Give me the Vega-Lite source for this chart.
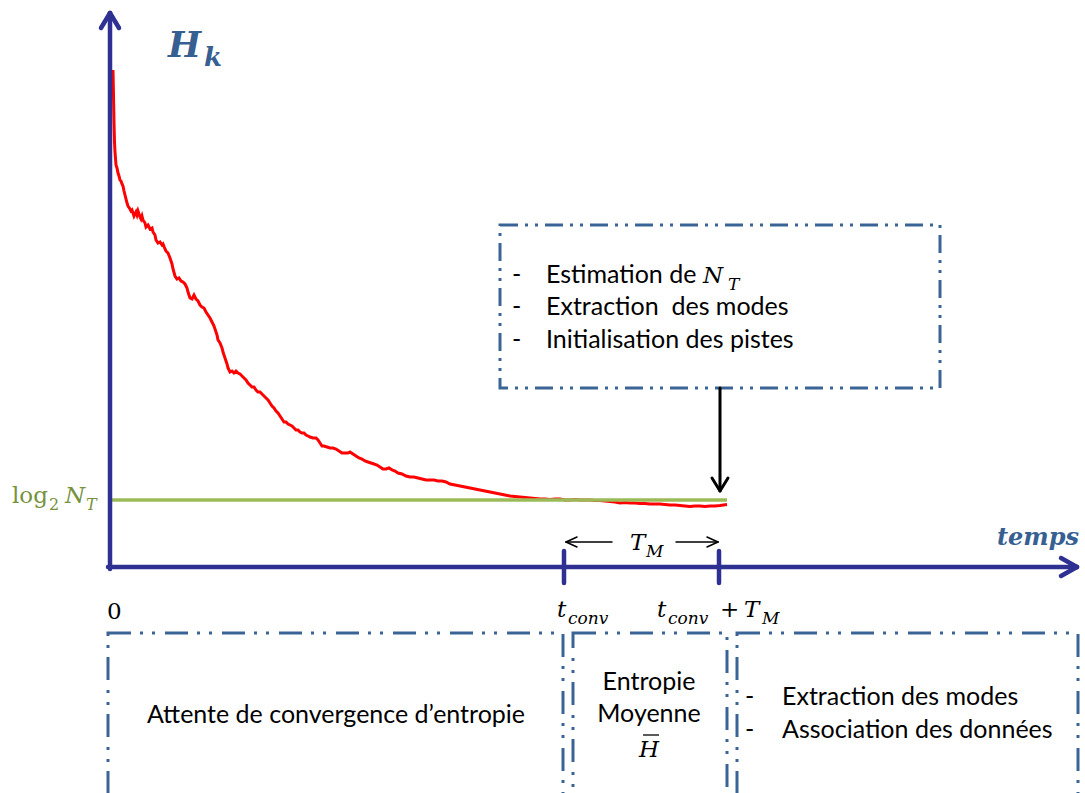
{
  "$schema": "https://vega.github.io/schema/vega-lite/v6.json",
  "width": 1085,
  "height": 793,
  "padding": 0,
  "autosize": {"type": "fit", "contains": "padding"},
  "background": "white",
  "config": {"view": {"stroke": null}},
  "datasets": {
    "curve": [
      {"x":113,"y":70},{"x":113.5,"y":95},{"x":114,"y":122},{"x":114.5,"y":142},{"x":115,"y":152},{"x":116,"y":165},{"x":117,"y":168},{"x":118,"y":173},{"x":119,"y":176},{"x":120,"y":180},{"x":121,"y":181},{"x":122,"y":184},{"x":123,"y":186},{"x":124,"y":191},{"x":125,"y":195},{"x":126,"y":199},{"x":127,"y":203},{"x":128,"y":206},{"x":130,"y":209},{"x":131,"y":211},{"x":132,"y":210},{"x":133,"y":213},{"x":134,"y":216},{"x":135,"y":214},{"x":136,"y":212},{"x":137,"y":215},{"x":138,"y":211},{"x":139,"y":214},{"x":140,"y":217},{"x":141,"y":219},{"x":142,"y":216},{"x":143,"y":220},{"x":145,"y":223},{"x":146,"y":227},{"x":148,"y":225},{"x":150,"y":229},{"x":152,"y":228},{"x":153,"y":232},{"x":155,"y":235},{"x":156,"y":240},{"x":158,"y":243},{"x":160,"y":242},{"x":162,"y":245},{"x":163,"y":244},{"x":165,"y":249},{"x":166,"y":251},{"x":168,"y":253},{"x":170,"y":258},{"x":172,"y":264},{"x":173,"y":269},{"x":175,"y":276},{"x":177,"y":279},{"x":179,"y":278},{"x":181,"y":281},{"x":183,"y":282},{"x":185,"y":284},{"x":187,"y":288},{"x":188,"y":292},{"x":190,"y":298},{"x":192,"y":299},{"x":194,"y":295},{"x":196,"y":299},{"x":198,"y":301},{"x":200,"y":305},{"x":202,"y":307},{"x":204,"y":308},{"x":206,"y":312},{"x":208,"y":315},{"x":210,"y":318},{"x":212,"y":322},{"x":214,"y":326},{"x":215,"y":329},{"x":217,"y":335},{"x":218,"y":340},{"x":220,"y":343},{"x":222,"y":348},{"x":223,"y":352},{"x":225,"y":358},{"x":227,"y":364},{"x":228,"y":368},{"x":230,"y":372},{"x":232,"y":371},{"x":234,"y":373},{"x":236,"y":371},{"x":238,"y":373},{"x":240,"y":374},{"x":242,"y":376},{"x":244,"y":378},{"x":246,"y":380},{"x":248,"y":383},{"x":250,"y":385},{"x":252,"y":387},{"x":254,"y":387},{"x":256,"y":390},{"x":258,"y":392},{"x":260,"y":392},{"x":262,"y":394},{"x":264,"y":396},{"x":266,"y":398},{"x":268,"y":400},{"x":270,"y":403},{"x":272,"y":406},{"x":274,"y":408},{"x":276,"y":411},{"x":278,"y":413},{"x":280,"y":416},{"x":282,"y":419},{"x":284,"y":422},{"x":286,"y":422},{"x":288,"y":424},{"x":290,"y":425},{"x":292,"y":426},{"x":294,"y":428},{"x":296,"y":430},{"x":298,"y":430},{"x":300,"y":432},{"x":302,"y":433},{"x":304,"y":433},{"x":306,"y":435},{"x":308,"y":436},{"x":310,"y":437},{"x":313,"y":438},{"x":316,"y":438},{"x":318,"y":440},{"x":320,"y":443},{"x":322,"y":446},{"x":324,"y":446},{"x":327,"y":447},{"x":330,"y":448},{"x":333,"y":448},{"x":336,"y":449},{"x":339,"y":451},{"x":342,"y":453},{"x":345,"y":453},{"x":348,"y":453},{"x":350,"y":452},{"x":353,"y":454},{"x":356,"y":456},{"x":359,"y":458},{"x":362,"y":459},{"x":365,"y":461},{"x":368,"y":462},{"x":371,"y":463},{"x":374,"y":464},{"x":377,"y":465},{"x":380,"y":467},{"x":383,"y":469},{"x":386,"y":469},{"x":389,"y":468},{"x":392,"y":470},{"x":395,"y":471},{"x":398,"y":473},{"x":402,"y":474},{"x":406,"y":476},{"x":410,"y":477},{"x":414,"y":477},{"x":418,"y":478},{"x":422,"y":479},{"x":426,"y":480},{"x":430,"y":480},{"x":434,"y":480},{"x":438,"y":481},{"x":442,"y":481},{"x":446,"y":482},{"x":450,"y":484},{"x":455,"y":485},{"x":460,"y":486},{"x":465,"y":487},{"x":470,"y":488},{"x":475,"y":489},{"x":480,"y":490},{"x":485,"y":491},{"x":490,"y":492},{"x":495,"y":493},{"x":500,"y":494},{"x":505,"y":495},{"x":510,"y":496},{"x":515,"y":496.5},{"x":520,"y":497},{"x":525,"y":497.5},{"x":530,"y":498},{"x":535,"y":498.5},{"x":540,"y":499},{"x":545,"y":499},{"x":550,"y":499.5},{"x":555,"y":499},{"x":560,"y":499},{"x":565,"y":500},{"x":570,"y":500},{"x":575,"y":499.5},{"x":580,"y":500},{"x":585,"y":500},{"x":590,"y":500},{"x":595,"y":500.5},{"x":600,"y":500.5},{"x":605,"y":501},{"x":610,"y":501.5},{"x":615,"y":502},{"x":620,"y":503},{"x":625,"y":502.5},{"x":630,"y":503},{"x":635,"y":503},{"x":640,"y":503.5},{"x":645,"y":503.5},{"x":650,"y":504},{"x":655,"y":504},{"x":660,"y":504},{"x":665,"y":504.5},{"x":670,"y":505},{"x":675,"y":505},{"x":680,"y":505.5},{"x":685,"y":506},{"x":690,"y":506.5},{"x":695,"y":506},{"x":700,"y":506},{"x":705,"y":506.5},{"x":710,"y":506},{"x":715,"y":506},{"x":720,"y":505.5},{"x":727,"y":504.5}
    ],
    "segs": [
      {"kind":"green","x":110,"y":500,"x2":727,"y2":500},
      {"kind":"axis","x":110,"y":569,"x2":110,"y2":13},
      {"kind":"axis","x":101,"y":28,"x2":110,"y2":13},
      {"kind":"axis","x":119,"y":28,"x2":110,"y2":13},
      {"kind":"axis","x":108,"y":567,"x2":1077,"y2":567},
      {"kind":"axis","x":1061,"y":558,"x2":1077,"y2":567},
      {"kind":"axis","x":1061,"y":576,"x2":1077,"y2":567},
      {"kind":"axis","x":564,"y":551,"x2":564,"y2":583},
      {"kind":"axis","x":719,"y":551,"x2":719,"y2":583},
      {"kind":"black","x":720,"y":388,"x2":720,"y2":490},
      {"kind":"black","x":712,"y":478,"x2":720,"y2":491},
      {"kind":"black","x":728,"y":478,"x2":720,"y2":491},
      {"kind":"thin","x":566,"y":542,"x2":612,"y2":542},
      {"kind":"thin","x":566,"y":542,"x2":577,"y2":537},
      {"kind":"thin","x":566,"y":542,"x2":577,"y2":547},
      {"kind":"thin","x":676,"y":542,"x2":718,"y2":542},
      {"kind":"thin","x":718,"y":542,"x2":707,"y2":537},
      {"kind":"thin","x":718,"y":542,"x2":707,"y2":547},
      {"kind":"bar","x":643,"y":735,"x2":659,"y2":735}
    ],
    "boxes": [
      {"kind":"top","x":500,"y":225,"x2":940,"y2":388},
      {"kind":"bottom","x":108,"y":633,"x2":563,"y2":800},
      {"kind":"bottom","x":573,"y":633,"x2":727,"y2":800},
      {"kind":"bottom","x":737,"y":633,"x2":1078,"y2":800}
    ],
    "texts": [
      {"role":"sans","x":512,"y":283,"text":"-"},
      {"role":"sans","x":546,"y":283,"text":"Estimation de"},
      {"role":"sans","x":512,"y":315,"text":"-"},
      {"role":"sans","x":546,"y":315,"text":"Extraction\u00a0 des modes"},
      {"role":"sans","x":512,"y":348,"text":"-"},
      {"role":"sans","x":546,"y":348,"text":"Initialisation des pistes"},
      {"role":"sans","x":745,"y":705,"text":"-"},
      {"role":"sans","x":782,"y":705,"text":"Extraction des modes"},
      {"role":"sans","x":745,"y":738,"text":"-"},
      {"role":"sans","x":782,"y":738,"text":"Association des données"},
      {"role":"sansc","x":336,"y":723,"text":"Attente de convergence d’entropie"},
      {"role":"sansc","x":649,"y":690,"text":"Entropie"},
      {"role":"sansc","x":649,"y":722,"text":"Moyenne"},
      {"role":"mi","x":703,"y":283,"text":"N"},
      {"role":"mi","x":630,"y":550,"text":"T"},
      {"role":"mi","x":557,"y":617,"text":"t"},
      {"role":"mi","x":657,"y":617,"text":"t"},
      {"role":"mi","x":744,"y":617,"text":"T"},
      {"role":"mr","x":720,"y":617,"text":"+"},
      {"role":"mr","x":107,"y":619,"text":"0"},
      {"role":"ms","x":728,"y":290,"text":"T"},
      {"role":"ms","x":646,"y":557,"text":"M"},
      {"role":"ms","x":568,"y":624,"text":"conv"},
      {"role":"ms","x":668,"y":624,"text":"conv"},
      {"role":"ms","x":762,"y":624,"text":"M"},
      {"role":"hbar","x":649,"y":757,"text":"H"},
      {"role":"titleH","x":168,"y":57,"text":"H"},
      {"role":"titlek","x":204,"y":66,"text":"k"},
      {"role":"temps","x":997,"y":545,"text":"temps"},
      {"role":"glog","x":12,"y":503,"text":"log"},
      {"role":"g2","x":49,"y":510,"text":"2"},
      {"role":"gN","x":65,"y":503,"text":"N"},
      {"role":"gT","x":86,"y":510,"text":"T"}
    ]
  },
  "encoding": {
    "x": {"field": "x", "type": "quantitative", "scale": {"domain": [0, 1085], "nice": false, "zero": false}, "axis": null},
    "y": {"field": "y", "type": "quantitative", "scale": {"domain": [0, 793], "reverse": true, "nice": false, "zero": false}, "axis": null}
  },
  "layer": [
    {
      "data": {"name": "boxes"},
      "transform": [{"filter": "datum.kind === 'top'"}],
      "mark": {"type": "rect", "filled": false, "stroke": "#3A6496", "strokeWidth": 3, "strokeDash": [18, 7, 3, 7, 3, 7], "clip": true},
      "encoding": {"x2": {"field": "x2"}, "y2": {"field": "y2"}}
    },
    {
      "data": {"name": "boxes"},
      "transform": [{"filter": "datum.kind === 'bottom'"}],
      "mark": {"type": "rect", "filled": false, "stroke": "#3A6496", "strokeWidth": 3, "strokeDash": [23, 9, 3, 9, 3, 10], "clip": true},
      "encoding": {"x2": {"field": "x2"}, "y2": {"field": "y2"}}
    },
    {
      "data": {"name": "curve"},
      "mark": {"type": "line", "color": "#FF0000", "strokeWidth": 3, "interpolate": "linear"},
      "encoding": {}
    },
    {
      "data": {"name": "segs"},
      "transform": [{"filter": "datum.kind === 'green'"}],
      "mark": {"type": "rule", "color": "#9BBB59", "strokeWidth": 3.5},
      "encoding": {"x2": {"field": "x2"}, "y2": {"field": "y2"}}
    },
    {
      "data": {"name": "segs"},
      "transform": [{"filter": "datum.kind === 'axis'"}],
      "mark": {"type": "rule", "color": "#2E3192", "strokeWidth": 4.5, "strokeCap": "round"},
      "encoding": {"x2": {"field": "x2"}, "y2": {"field": "y2"}}
    },
    {
      "data": {"name": "segs"},
      "transform": [{"filter": "datum.kind === 'black'"}],
      "mark": {"type": "rule", "color": "#000000", "strokeWidth": 3, "strokeCap": "round"},
      "encoding": {"x2": {"field": "x2"}, "y2": {"field": "y2"}}
    },
    {
      "data": {"name": "segs"},
      "transform": [{"filter": "datum.kind === 'thin'"}],
      "mark": {"type": "rule", "color": "#000000", "strokeWidth": 1.5, "strokeCap": "round"},
      "encoding": {"x2": {"field": "x2"}, "y2": {"field": "y2"}}
    },
    {
      "data": {"name": "segs"},
      "transform": [{"filter": "datum.kind === 'bar'"}],
      "mark": {"type": "rule", "color": "#000000", "strokeWidth": 1.3},
      "encoding": {"x2": {"field": "x2"}, "y2": {"field": "y2"}}
    },
    {
      "data": {"name": "texts"},
      "transform": [{"filter": "datum.role === 'sans'"}],
      "mark": {"type": "text", "font": "Lato", "fontSize": 25, "color": "#000000", "align": "left", "baseline": "alphabetic"},
      "encoding": {"text": {"field": "text"}}
    },
    {
      "data": {"name": "texts"},
      "transform": [{"filter": "datum.role === 'sansc'"}],
      "mark": {"type": "text", "font": "Lato", "fontSize": 25, "color": "#000000", "align": "center", "baseline": "alphabetic"},
      "encoding": {"text": {"field": "text"}}
    },
    {
      "data": {"name": "texts"},
      "transform": [{"filter": "datum.role === 'mi'"}],
      "mark": {"type": "text", "font": "DejaVu Serif", "fontStyle": "italic", "fontSize": 23, "color": "#000000", "align": "left", "baseline": "alphabetic"},
      "encoding": {"text": {"field": "text"}}
    },
    {
      "data": {"name": "texts"},
      "transform": [{"filter": "datum.role === 'mr'"}],
      "mark": {"type": "text", "font": "DejaVu Serif", "fontSize": 23, "color": "#000000", "align": "left", "baseline": "alphabetic"},
      "encoding": {"text": {"field": "text"}}
    },
    {
      "data": {"name": "texts"},
      "transform": [{"filter": "datum.role === 'ms'"}],
      "mark": {"type": "text", "font": "DejaVu Serif", "fontStyle": "italic", "fontSize": 17, "color": "#000000", "align": "left", "baseline": "alphabetic"},
      "encoding": {"text": {"field": "text"}}
    },
    {
      "data": {"name": "texts"},
      "transform": [{"filter": "datum.role === 'hbar'"}],
      "mark": {"type": "text", "font": "DejaVu Serif", "fontStyle": "italic", "fontSize": 23, "color": "#000000", "align": "center", "baseline": "alphabetic"},
      "encoding": {"text": {"field": "text"}}
    },
    {
      "data": {"name": "texts"},
      "transform": [{"filter": "datum.role === 'titleH'"}],
      "mark": {"type": "text", "font": "DejaVu Serif", "fontStyle": "italic", "fontWeight": "bold", "fontSize": 35, "color": "#376092", "align": "left", "baseline": "alphabetic"},
      "encoding": {"text": {"field": "text"}}
    },
    {
      "data": {"name": "texts"},
      "transform": [{"filter": "datum.role === 'titlek'"}],
      "mark": {"type": "text", "font": "DejaVu Serif", "fontStyle": "italic", "fontWeight": "bold", "fontSize": 26, "color": "#376092", "align": "left", "baseline": "alphabetic"},
      "encoding": {"text": {"field": "text"}}
    },
    {
      "data": {"name": "texts"},
      "transform": [{"filter": "datum.role === 'temps'"}],
      "mark": {"type": "text", "font": "DejaVu Serif", "fontStyle": "italic", "fontWeight": "bold", "fontSize": 24, "color": "#376092", "align": "left", "baseline": "alphabetic"},
      "encoding": {"text": {"field": "text"}}
    },
    {
      "data": {"name": "texts"},
      "transform": [{"filter": "datum.role === 'glog'"}],
      "mark": {"type": "text", "font": "DejaVu Serif", "fontSize": 23, "color": "#76923C", "align": "left", "baseline": "alphabetic"},
      "encoding": {"text": {"field": "text"}}
    },
    {
      "data": {"name": "texts"},
      "transform": [{"filter": "datum.role === 'g2'"}],
      "mark": {"type": "text", "font": "DejaVu Serif", "fontSize": 16, "color": "#76923C", "align": "left", "baseline": "alphabetic"},
      "encoding": {"text": {"field": "text"}}
    },
    {
      "data": {"name": "texts"},
      "transform": [{"filter": "datum.role === 'gN'"}],
      "mark": {"type": "text", "font": "DejaVu Serif", "fontStyle": "italic", "fontSize": 23, "color": "#76923C", "align": "left", "baseline": "alphabetic"},
      "encoding": {"text": {"field": "text"}}
    },
    {
      "data": {"name": "texts"},
      "transform": [{"filter": "datum.role === 'gT'"}],
      "mark": {"type": "text", "font": "DejaVu Serif", "fontStyle": "italic", "fontSize": 16, "color": "#76923C", "align": "left", "baseline": "alphabetic"},
      "encoding": {"text": {"field": "text"}}
    }
  ]
}
